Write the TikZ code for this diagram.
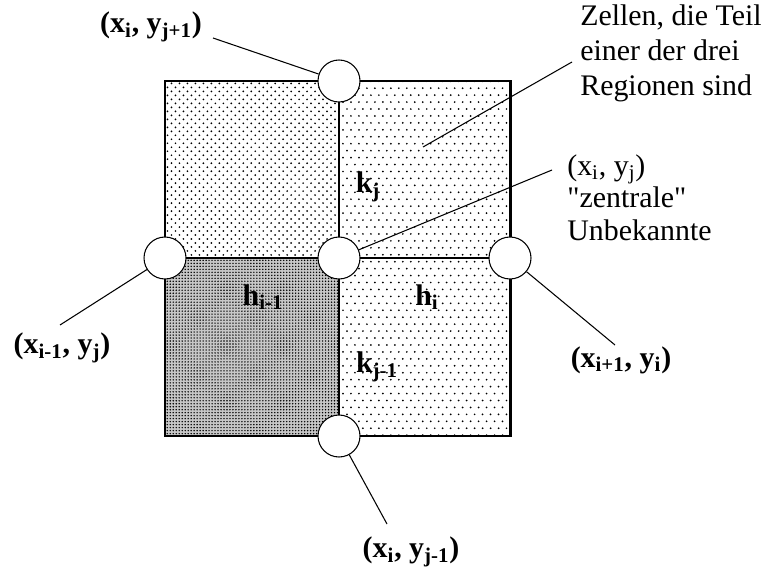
\documentclass[tikz,border=0pt]{standalone}
\usepackage{fontspec}
\setmainfont{Liberation Serif}
\newfontfamily\notefont{Liberation Serif}
\usepackage{tikz}
\usetikzlibrary{patterns}

% stipple fills of the cells
\pgfdeclarepatternformonly{middots}{\pgfqpoint{-1pt}{-1pt}}{\pgfqpoint{5.54pt}{5.54pt}}{\pgfqpoint{4.54pt}{4.54pt}}{%
  \pgfpathcircle{\pgfqpoint{0pt}{0pt}}{0.55pt}%
  \pgfpathcircle{\pgfqpoint{2.27pt}{2.27pt}}{0.55pt}%
  \pgfusepath{fill}}
\pgfdeclarepatternformonly{sparsedots}{\pgfqpoint{-1pt}{-1pt}}{\pgfqpoint{5.54pt}{8.9pt}}{\pgfqpoint{4.54pt}{7.9pt}}{%
  \pgfpathcircle{\pgfqpoint{0pt}{0pt}}{0.55pt}%
  \pgfpathcircle{\pgfqpoint{2.27pt}{3.95pt}}{0.55pt}%
  \pgfusepath{fill}}
\pgfdeclarepatternformonly{densedots}{\pgfqpoint{-1pt}{-1pt}}{\pgfqpoint{2.7pt}{2.7pt}}{\pgfqpoint{1.7pt}{1.7pt}}{%
  \pgfpathcircle{\pgfqpoint{0pt}{0pt}}{0.45pt}%
  \pgfusepath{fill}}

\begin{document}
\begin{tikzpicture}[x=0.02cm, y=-0.02cm,
    knot/.style={circle, draw, fill=white, minimum size=0.84cm, inner sep=0pt, line width=0.6pt},
    cell/.style={font=\fontsize{17}{20}\selectfont\bfseries},
    lbl/.style={font=\fontsize{17}{20}\selectfont\bfseries},
    note/.style={font=\notefont\fontsize{17}{20}\selectfont, align=left, inner sep=0pt, anchor=north west},
    leader/.style={line width=0.6pt},
    gridline/.style={line width=1.7pt},
]
\useasboundingbox (0,0) rectangle (774,574);

% Cells
\fill[pattern=middots] (165,81) rectangle (339,258);
\fill[black!22] (165,258) rectangle (339,436);
\fill[pattern=densedots] (165,258) rectangle (339,436);
\fill[pattern=sparsedots] (339,81) rectangle (510,436);

% Grid lines
\draw[gridline] (165,81) rectangle (510,436);
\draw[gridline] (339,81) -- (339,436);
\draw[gridline] (165,258) -- (510,258);

% Unknowns
\node[knot] (top) at (339,81) {};
\node[knot] (left) at (165,258) {};
\node[knot] (ctr) at (339,258) {};
\node[knot] (right) at (510,258) {};
\node[knot] (bot) at (339,436) {};

% Cell labels
\node[cell] (kj) at (368,187) {k\textsubscript{j}};
\node[cell] (hprev) at (263,297) {h\textsubscript{i-1}};
\node[cell] (hi) at (427,297) {h\textsubscript{i}};
\node[cell] (kprev) at (377,367) {k\textsubscript{j-1}};

% Point labels
\node[lbl] (lblTop) at (151,27) {(x\textsubscript{i}, y\textsubscript{j+1})};
\node[lbl] (lblLeft) at (62,348) {(x\textsubscript{i-1}, y\textsubscript{j})};
\node[lbl] (lblRight) at (621,360) {(x\textsubscript{i+1}, y\textsubscript{i})};
\node[lbl] (lblBot) at (411,552) {(x\textsubscript{i}, y\textsubscript{j-1})};

% Notes
\node[note] (zellen) at (580,4) {Zellen, die Teil\\einer der drei\\Regionen sind};
\node[note, font=\notefont\fontsize{17}{18.5}\selectfont] (central) at (567,154)
    {(x\textsubscript{i}, y\textsubscript{j})\\"zentrale"\\Unbekannte};

% Leader lines
\coordinate (eTop) at (213,38);
\coordinate (eLeft) at (60,325);
\coordinate (eRight) at (615,345);
\coordinate (eBot) at (387,524);
\coordinate (eCtr) at (552,170);
\coordinate (cellPt) at (423,147);
\coordinate (eZellen) at (572,62);
\draw[leader] (top) -- (eTop);
\draw[leader] (left) -- (eLeft);
\draw[leader] (right) -- (eRight);
\draw[leader] (bot) -- (eBot);
\draw[leader] (ctr) -- (eCtr);
\draw[leader] (cellPt) -- (eZellen);

\end{tikzpicture}
\end{document}
